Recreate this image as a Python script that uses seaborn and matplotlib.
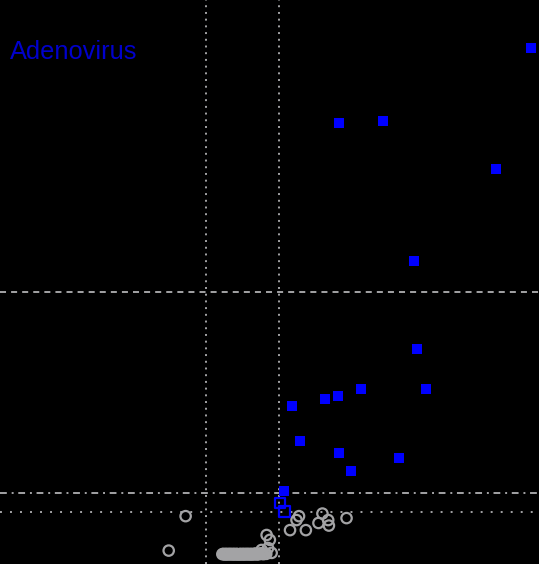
import numpy as np
import pandas as pd
import matplotlib
matplotlib.use("Agg")
import matplotlib.pyplot as plt
import seaborn as sns

# log2 fold change / -log10 p-value per gene
sig_fc = [8.00, 2.69, 3.89, 7.03, 4.76, 4.84, 5.10, 3.29, 2.65, 2.29,
          1.38, 1.59, 2.69, 4.35, 3.01, 1.16]
sig_p = [15.58, 13.28, 13.34, 11.86, 9.03, 6.32, 5.10, 5.10, 4.88, 4.78,
         4.57, 3.50, 3.13, 2.96, 2.58, 1.96]

nominal_fc = [1.04, 1.16]
nominal_p = [1.59, 1.32]

ns_fc = [-1.58, -2.05, 0.67, 0.76, 1.32, 1.50, 1.57, 1.76, 2.22, 2.11,
         2.38, 2.40, 2.89, 0.53, 0.71, 0.81,
         -0.56, -0.53, -0.50, -0.47, -0.44, -0.41, -0.38, -0.35, -0.32, -0.29,
         -0.26, -0.23, -0.20, -0.17, -0.14, -0.11, -0.08, -0.05, -0.02, 0.01,
         0.04, 0.07, 0.10, 0.13, 0.16, 0.19, 0.22, 0.25, 0.28, 0.31,
         0.34, 0.37, 0.40, 0.43, 0.46, 0.49, 0.52, 0.55, 0.58, 0.62, 0.66]
ns_p = [1.18, 0.12, 0.60, 0.45, 0.75, 1.06, 1.18, 0.75, 1.26, 0.97,
        1.06, 0.89, 1.12, 0.14, 0.20, 0.05,
        0.01, 0.02, 0.00, 0.01, 0.02, 0.00, 0.01, 0.02, 0.01, 0.00,
        0.02, 0.01, 0.00, 0.02, 0.01, 0.00, 0.01, 0.02, 0.00, 0.01,
        0.02, 0.00, 0.01, 0.02, 0.01, 0.00, 0.02, 0.01, 0.00, 0.02,
        0.01, 0.03, 0.00, 0.02, 0.01, 0.03, 0.02, 0.04, 0.01, 0.03, 0.02]

fc_cut = [-1.0, 1.0]
p_nominal = 1.30
p_fdr = 1.88
p_bonf = 8.07
title = "Adenovirus"

sig = pd.DataFrame({"log2FC": sig_fc, "nlog10p": sig_p})
nom = pd.DataFrame({"log2FC": nominal_fc, "nlog10p": nominal_p})
ns = pd.DataFrame({"log2FC": ns_fc, "nlog10p": ns_p})

sns.set_style("dark", {"axes.facecolor": "black", "figure.facecolor": "black"})
plt.rcParams["font.family"] = ["Liberation Sans", "DejaVu Sans"]

fig = plt.figure(figsize=(5.39, 5.64), dpi=100, facecolor="black")
ax = fig.add_axes([0, 0, 1, 1])
ax.set_facecolor("black")

grey = "#a3a3a5"
lw = 1.4

# threshold guides
for x in fc_cut:
    ax.axvline(x, color=grey, lw=lw, ls=(0, (1, 2.45)), zorder=1)
ax.axhline(p_nominal, color=grey, lw=lw, ls=(0, (1, 4.15)), zorder=1)
ax.axhline(p_fdr, color=grey, lw=lw, ls=(0, (3.5, 2.5, 1, 2.4)), zorder=1)
ax.axhline(p_bonf, color=grey, lw=lw, ls=(0, (3.1, 2.6)), zorder=1)

sns.scatterplot(data=ns, x="log2FC", y="nlog10p", ax=ax, marker="o", s=56,
                facecolor="none", edgecolor=grey, linewidth=1.6, zorder=2,
                legend=False)
sns.scatterplot(data=nom, x="log2FC", y="nlog10p", ax=ax, marker="s", s=58,
                facecolor="none", edgecolor="#0000ff", linewidth=1.6, zorder=3,
                legend=False)
sns.scatterplot(data=sig, x="log2FC", y="nlog10p", ax=ax, marker="s", s=52,
                color="#0000ff", linewidth=0, zorder=4, legend=False)

ax.set_xlim(-242.5 / 36, 296.5 / 36)
ax.set_ylim(-9.5 / 32.5, 554.5 / 32.5)
ax.set_xlabel("")
ax.set_ylabel("")
ax.set_xticks([])
ax.set_yticks([])
ax.grid(False)
for sp in ax.spines.values():
    sp.set_visible(False)

ax.text(0.0185, 0.895, title, transform=ax.transAxes, color="#0000cc",
        fontsize=18.3, ha="left", va="baseline")

fig.savefig("out.png", dpi=100, facecolor="black")
